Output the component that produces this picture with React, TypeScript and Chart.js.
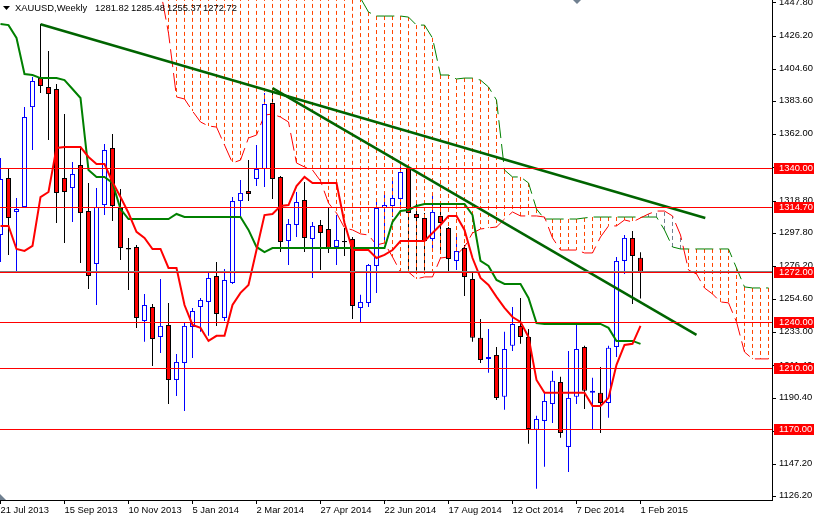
import Chart from "chart.js/auto";
import React, { useEffect, useRef } from "react";

const opens = [
  1296.7, 1333.8, 1311.7, 1314.9, 1380.0, 1398.9, 1393.1, 1391.8, 1333.8, 1327.3,
  1342.3, 1312.3, 1277.8, 1316.2, 1353.4, 1314.3, 1288.3, 1288.9, 1240.7, 1249.8,
  1230.3, 1238.1, 1202.3, 1213.4, 1236.8, 1249.8, 1253.1, 1270.0, 1242.7, 1265.5,
  1318.8, 1325.4, 1333.2, 1339.7, 1382.6, 1334.5, 1292.8, 1303.2, 1319.5, 1294.1,
  1303.2, 1300.6, 1288.9, 1292.8, 1294.1, 1249.2, 1252.4, 1276.5, 1314.3, 1315.6,
  1320.2, 1340.3, 1310.4, 1307.8, 1294.1, 1309.1, 1301.3, 1279.8, 1288.3, 1268.1,
  1229.7, 1216.0, 1218.6, 1191.3, 1224.5, 1237.5, 1230.3, 1169.8, 1175.6, 1186.7,
  1201.0, 1158.7, 1191.3, 1223.8, 1193.9, 1193.9, 1187.3, 1223.8, 1279.8, 1294.8, 1281.82,
];
const highs = [
  1346.8, 1339.7, 1320.8, 1380.0, 1399.6, 1434.1, 1416.5, 1395.0, 1375.5, 1344.2,
  1353.4, 1330.6, 1327.3, 1356.0, 1362.5, 1326.7, 1294.8, 1290.2, 1258.3, 1251.8,
  1268.1, 1252.4, 1219.2, 1239.4, 1249.2, 1255.7, 1272.0, 1279.1, 1274.6, 1321.5,
  1332.5, 1345.5, 1355.3, 1389.2, 1392.4, 1335.1, 1307.1, 1324.7, 1331.2, 1305.2,
  1306.5, 1314.9, 1309.7, 1301.3, 1295.4, 1257.7, 1277.8, 1320.8, 1324.7, 1332.5,
  1343.6, 1340.3, 1317.5, 1311.0, 1324.1, 1317.5, 1301.9, 1296.7, 1290.2, 1272.0,
  1242.0, 1235.5, 1223.8, 1233.6, 1249.8, 1255.7, 1235.5, 1178.9, 1193.9, 1208.2,
  1204.3, 1221.2, 1238.1, 1224.5, 1203.7, 1210.8, 1224.5, 1282.4, 1296.7, 1299.3, 1285.48,
];
const lows = [
  1279.1, 1283.7, 1273.3, 1314.9, 1352.0, 1389.2, 1358.6, 1304.5, 1291.5, 1305.2,
  1278.5, 1261.6, 1251.1, 1309.7, 1305.8, 1280.4, 1260.9, 1236.2, 1227.1, 1211.4,
  1219.9, 1186.7, 1191.9, 1182.1, 1216.6, 1233.6, 1231.0, 1237.5, 1240.7, 1264.8,
  1308.4, 1318.8, 1328.6, 1328.0, 1320.2, 1285.6, 1277.2, 1295.4, 1285.6, 1268.7,
  1273.9, 1285.0, 1277.2, 1283.0, 1242.0, 1240.1, 1249.8, 1259.0, 1293.5, 1308.4,
  1314.3, 1272.6, 1272.6, 1273.9, 1285.6, 1285.6, 1272.6, 1273.9, 1257.0, 1227.1,
  1213.4, 1206.9, 1189.3, 1182.8, 1221.2, 1225.8, 1160.7, 1131.4, 1145.7, 1174.3,
  1164.6, 1142.4, 1186.7, 1183.4, 1170.4, 1167.8, 1177.6, 1217.3, 1271.3, 1251.8, 1255.37,
];
const closes = [
  1333.2, 1307.8, 1313.6, 1373.5, 1397.0, 1393.7, 1388.5, 1324.1, 1324.7, 1336.4,
  1311.0, 1270.0, 1314.9, 1352.0, 1315.6, 1288.3, 1287.3, 1242.7, 1251.1, 1229.0,
  1237.5, 1202.3, 1214.0, 1237.5, 1247.2, 1254.4, 1268.7, 1245.3, 1267.4, 1318.8,
  1324.1, 1323.4, 1339.7, 1382.0, 1333.2, 1292.2, 1303.9, 1318.2, 1294.8, 1302.6,
  1298.0, 1288.3, 1293.5, 1292.0, 1250.5, 1253.1, 1277.2, 1314.3, 1316.2, 1320.8,
  1337.7, 1311.0, 1307.8, 1292.8, 1311.7, 1304.5, 1281.1, 1286.3, 1269.4, 1229.7,
  1215.3, 1217.3, 1190.6, 1222.5, 1238.8, 1230.3, 1170.4, 1176.9, 1188.6, 1201.7,
  1167.8, 1190.6, 1222.5, 1195.2, 1195.2, 1187.3, 1223.2, 1279.8, 1294.8, 1283.0, 1272.72,
];

const tenkan = [
  1302.6, 1302.6, 1287.6, 1286.3, 1289.6, 1321.4, 1324.7, 1353.4, 1354.0, 1354.0,
  1354.0, 1347.5, 1342.9, 1342.9, 1331.2, 1321.4, 1311.0, 1298.7, 1294.8, 1287.6,
  1287.6, 1275.2, 1275.2, 1251.1, 1238.1, 1236.2, 1227.7, 1231.0, 1231.0, 1251.1,
  1259.0, 1264.2, 1286.9, 1309.7, 1310.4, 1315.6, 1316.2, 1328.6, 1334.5, 1330.6,
  1330.6, 1330.6, 1330.6, 1304.5, 1286.9, 1286.9, 1286.9, 1281.7, 1283.7, 1286.9,
  1292.8, 1292.8, 1292.8, 1292.8, 1298.0, 1303.2, 1309.1, 1309.1, 1300.0, 1281.7,
  1268.7, 1264.2, 1256.4, 1249.2, 1243.3, 1240.1, 1230.3, 1202.3, 1193.9, 1193.9,
  1193.9, 1193.9, 1193.9, 1193.9, 1185.4, 1185.4, 1190.6, 1212.1, 1225.1, 1225.8, 1237.5,
];
const kijun = [
  1434.1, 1433.4, 1425.0, 1401.5, 1400.9, 1398.9, 1398.9, 1398.9, 1397.6, 1391.8,
  1385.9, 1339.0, 1334.5, 1334.5, 1330.6, 1313.6, 1307.1, 1307.1, 1307.1, 1307.1,
  1307.1, 1307.1, 1310.4, 1308.4, 1308.4, 1308.4, 1308.4, 1308.4, 1308.4, 1308.4,
  1308.4, 1300.0, 1288.9, 1285.6, 1288.2, 1288.2, 1288.2, 1288.2, 1288.2, 1288.2,
  1288.2, 1288.2, 1288.2, 1288.2, 1288.2, 1288.2, 1288.2, 1288.2, 1288.2, 1305.2,
  1312.3, 1313.0, 1315.6, 1316.9, 1316.9, 1316.9, 1316.9, 1316.9, 1316.9, 1309.7,
  1279.8, 1276.5, 1267.4, 1264.8, 1264.8, 1264.8, 1255.7, 1239.4, 1238.8, 1238.8,
  1238.8, 1238.8, 1238.8, 1238.8, 1238.8, 1238.8, 1236.2, 1227.7, 1227.7, 1227.7, 1225.8,
];

// the cloud starts at bar 20 and runs on past the last candle
const cloudStart = 20;
const spanRed = [
  1456.2, 1428.2, 1386.6, 1385.3, 1377.4, 1370.3, 1367.7, 1367.0, 1355.3, 1343.6,
  1345.5, 1359.9, 1361.8, 1374.8, 1375.5, 1373.5, 1370.3, 1343.6, 1341.0, 1339.0,
  1331.9, 1317.5, 1311.0, 1301.3, 1300.0, 1297.4, 1296.7, 1290.2, 1291.5, 1282.4,
  1272.6, 1272.6, 1268.1, 1269.4, 1269.4, 1281.7, 1282.4, 1283.7, 1288.9, 1298.0,
  1300.6, 1301.3, 1301.9, 1307.1, 1311.7, 1309.1, 1309.1, 1309.1, 1308.4, 1294.8,
  1286.9, 1286.9, 1286.9, 1285.0, 1285.0, 1295.4, 1302.6, 1302.6, 1306.5, 1305.2,
  1307.8, 1310.4, 1312.3, 1312.3, 1309.1, 1296.7, 1273.9, 1271.3, 1262.2, 1258.3,
  1253.1, 1252.5, 1240.1, 1220.5, 1216.0, 1216.0, 1216.0,
];
const spanGreen = [
  1470, 1470, 1470, 1470, 1470, 1470, 1470, 1470, 1470, 1470,
  1470, 1470, 1470, 1470, 1470, 1470, 1470, 1470, 1470, 1470,
  1470, 1470, 1470, 1470, 1459, 1451.0, 1441.9, 1439.3, 1439.3, 1439.3,
  1439.3, 1438.6, 1433.4, 1433.4, 1425.0, 1400.9, 1400.9, 1398.3, 1398.9, 1398.9,
  1397.6, 1393.1, 1384.6, 1339.0, 1334.5, 1334.5, 1330.6, 1313.6, 1307.1, 1307.1,
  1307.1, 1307.1, 1307.1, 1307.8, 1308.4, 1308.4, 1308.4, 1308.4, 1308.4, 1308.4,
  1308.4, 1308.4, 1308.4, 1300.0, 1288.9, 1287.6, 1287.6, 1287.6, 1287.6, 1287.6,
  1287.6, 1287.6, 1275.2, 1262.9, 1262.2, 1262.2, 1262.2,
];

const levels = [1340, 1314.7, 1272, 1240, 1210, 1170];
const lastPrice = 1272.72;

// [bar, price, bar, price]
const trendA = [5, 1434.0, 88.1, 1307.8];
const trendB = [34, 1392.4, 87, 1231.6];

const priceTicks = [
  1447.8, 1426.2, 1404.6, 1383.6, 1362.0, 1340.4, 1318.8, 1297.8,
  1276.2, 1254.6, 1233.0, 1211.4, 1190.4, 1168.8, 1147.2, 1126.2,
];
const dateLabels = [
  "21 Jul 2013", "15 Sep 2013", "10 Nov 2013", "5 Jan 2014", "2 Mar 2014", "27 Apr 2014",
  "22 Jun 2014", "17 Aug 2014", "12 Oct 2014", "7 Dec 2014", "1 Feb 2015",
];
const barsPerLabel = 8;
const symbolName = "XAUUSD,Weekly";
const ohlcText = ["1281.82", "1285.48", "1255.37", "1272.72"];

const font = "Liberation Sans";
const fontSize = 9.4;

const bars = opens.map((_, i) => i);
const upBars = bars.filter((i) => closes[i] >= opens[i]);
const downBars = bars.filter((i) => closes[i] < opens[i]);

const wickSet = (idx: number[], color: string) => ({
  type: "bar" as const,
  grouped: false,
  data: idx.map((i) => ({ x: i, y: [lows[i], highs[i]] })),
  backgroundColor: color,
  borderWidth: 0,
  barThickness: 1,
  inflateAmount: 0,
  order: 60,
});

const bodySet = (idx: number[], fill: string, edge: string) => ({
  type: "bar" as const,
  grouped: false,
  data: idx.map((i) => ({
    x: i,
    y: [Math.min(opens[i], closes[i]), Math.max(opens[i], closes[i])],
  })),
  backgroundColor: fill,
  borderColor: edge,
  borderWidth: 1,
  borderSkipped: false,
  barThickness: 5,
  inflateAmount: 0,
  order: 30,
});

const lineSet = (points: { x: number; y: number }[], color: string, width: number, order: number) => ({
  type: "line" as const,
  data: points,
  borderColor: color,
  borderWidth: width,
  pointRadius: 0,
  tension: 0,
  fill: false,
  order,
});

const series = (values: number[], start: number) =>
  values.map((y, i) => ({ x: i + start, y }));

// one dashed stroke per bar between the two spans, NaN breaks the path
const cloudDashes = (redOnTop: boolean) => {
  const out: { x: number; y: number }[] = [];
  spanRed.forEach((red, i) => {
    if (i === 0) return;
    const green = spanGreen[i];
    if (red > green !== redOnTop) return;
    const x = i + cloudStart;
    out.push({ x, y: green }, { x, y: red }, { x, y: NaN });
  });
  return out;
};

const overlay = {
  id: "overlay",
  // price levels stay on whole pixel rows, a plain line dataset blurs them
  afterDatasetsDraw(chart: Chart) {
    const { ctx, scales, chartArea } = chart;
    const y = scales.y;
    ctx.save();
    ctx.lineWidth = 1;
    ctx.strokeStyle = "#808080";
    const rowLast = Math.floor(y.getPixelForValue(lastPrice)) + 0.5;
    ctx.beginPath();
    ctx.moveTo(chartArea.left, rowLast);
    ctx.lineTo(chartArea.right, rowLast);
    ctx.stroke();
    ctx.strokeStyle = "#ff0000";
    levels.forEach((level) => {
      const row = Math.floor(y.getPixelForValue(level)) + 0.5;
      ctx.beginPath();
      ctx.moveTo(chartArea.left, row);
      ctx.lineTo(chartArea.right, row);
      ctx.stroke();
    });
    ctx.restore();
  },
  afterDraw(chart: Chart) {
    const { ctx, scales } = chart;
    const y = scales.y;
    ctx.save();

    ctx.font = `${fontSize}px "${font}"`;
    ctx.textBaseline = "middle";
    levels.forEach((level) => {
      const py = Math.floor(y.getPixelForValue(level));
      ctx.fillStyle = "#ff0000";
      ctx.fillRect(774, py - 5, 40, 11);
      ctx.fillStyle = "#ffffff";
      ctx.fillText(level.toFixed(2), 779, py + 0.5);
    });

    ctx.fillStyle = "#000000";
    ctx.fillText(symbolName, 15, 8);
    ohlcText.forEach((text, i) => ctx.fillText(text, 95 + i * 36, 8));
    ctx.beginPath();
    ctx.moveTo(3, 6);
    ctx.lineTo(10, 6);
    ctx.lineTo(6.5, 10);
    ctx.fill();

    ctx.fillStyle = "#708090";
    ctx.beginPath();
    ctx.moveTo(573, 0);
    ctx.lineTo(581, 0);
    ctx.lineTo(577, 4);
    ctx.fill();
    ctx.beginPath();
    ctx.moveTo(0, 494);
    ctx.lineTo(6, 500);
    ctx.lineTo(0, 500);
    ctx.fill();
    ctx.restore();
  },
};

// axis sizes are fixed, and the tick labels must not push the plot inwards
const pinAxis = (scale: any, size: number) => {
  if (scale.isHorizontal()) {
    scale.height = size;
  } else {
    scale.width = size;
  }
  scale.paddingLeft = 0;
  scale.paddingRight = 0;
  scale.paddingTop = 0;
  scale.paddingBottom = 0;
};

const App: React.FC = () => {
  const canvasRef = useRef<HTMLCanvasElement>(null);

  useEffect(() => {
    document.body.style.margin = "0";
    const canvas = canvasRef.current;
    if (!canvas) {
      return;
    }

    const chart = new Chart(canvas, {
      type: "bar",
      data: {
        datasets: [
          wickSet(upBars, "#0000ff"),
          wickSet(downBars, "#000000"),
          { ...lineSet(cloudDashes(false), "#ff4500", 1, 50), borderDash: [4, 3] },
          { ...lineSet(cloudDashes(true), "#708090", 1, 50), borderDash: [4, 3] },
          {
            ...lineSet(series(spanRed, cloudStart), "#ff0000", 1, 40),
            borderDash: [18, 6],
            borderDashOffset: 12,
          },
          {
            ...lineSet(series(spanGreen, cloudStart), "#008000", 1, 40),
            borderDash: [18, 6],
            borderDashOffset: 21.8,
          },
          bodySet(upBars, "#ffffff", "#0000ff"),
          bodySet(downBars, "#ff0000", "#000000"),
          lineSet(series(kijun, 0), "#008000", 2, 20),
          lineSet(series(tenkan, 0), "#ff0000", 2, 19),
          lineSet([{ x: trendA[0], y: trendA[1] }, { x: trendA[2], y: trendA[3] }], "#006400", 2.5, 5),
          lineSet([{ x: trendB[0], y: trendB[1] }, { x: trendB[2], y: trendB[3] }], "#006400", 2.5, 5),
        ] as any,
      },
      options: {
        responsive: false,
        animation: false,
        layout: { autoPadding: false, padding: 0 },
        plugins: {
          legend: { display: false },
          tooltip: { enabled: false },
        },
        scales: {
          x: {
            type: "linear",
            offset: false,
            bounds: "data",
            min: -0.0625,
            max: 96.4375,
            afterFit: (scale: any) => pinAxis(scale, 16),
            afterBuildTicks: (scale: any) => {
              scale.ticks = dateLabels.map((_, i) => ({ value: i * barsPerLabel }));
            },
            grid: { offset: false, drawOnChartArea: false, tickLength: 4, tickColor: "#000000" },
            border: { color: "#000000" },
            ticks: {
              autoSkip: false,
              maxRotation: 0,
              align: "start",
              padding: 1,
              color: "#000000",
              font: { family: font, size: fontSize },
              callback: (value: any) => dateLabels[value / barsPerLabel],
            },
          },
          y: {
            type: "linear",
            position: "right",
            bounds: "data",
            min: 1124.1,
            max: 1449.75,
            afterFit: (scale: any) => pinAxis(scale, 42),
            afterBuildTicks: (scale: any) => {
              scale.ticks = priceTicks.map((value) => ({ value }));
            },
            grid: { drawOnChartArea: false, tickLength: 4, tickColor: "#000000" },
            border: { color: "#000000" },
            ticks: {
              autoSkip: false,
              padding: 3,
              labelOffset: -1,
              color: "#000000",
              font: { family: font, size: fontSize },
              callback: (value: any) => Number(value).toFixed(2),
            },
          },
        },
      },
      plugins: [overlay],
    });

    return () => {
      chart.destroy();
    };
  }, []);

  return <canvas ref={canvasRef} width={814} height={516} style={{ display: "block" }} />;
};

export default App;
